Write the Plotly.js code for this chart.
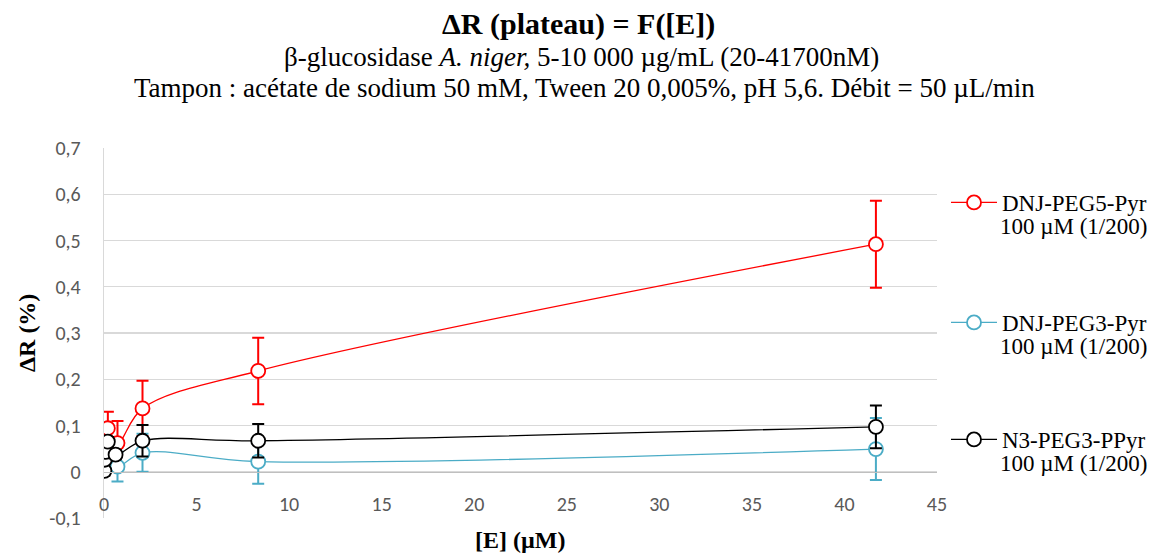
<!DOCTYPE html>
<html>
<head>
<meta charset="utf-8">
<script src="https://cdn.plot.ly/plotly-3.0.1.min.js"></script>
<style>html,body{margin:0;padding:0;background:#fff;}#chart{width:1161px;height:554px;}</style>
</head>
<body>
<div id="chart"></div>
<script>
// Data (x in µM, y in %)
const redName = "DNJ-PEG5-Pyr";
const redX = [0.042, 0.208, 0.729, 2.08, 8.33, 41.7];
const redY = [0.055, 0.094, 0.062, 0.137, 0.218, 0.492];
const redErr = [0.03, 0.036, 0.048, 0.06, 0.072, 0.094];

const tealName = "DNJ-PEG3-Pyr";
const tealX = [0.021, 0.104, 0.729, 2.08, 8.33, 41.7];
const tealY = [0.01, 0.02, 0.011, 0.041, 0.022, 0.049];
const tealErr = [0.015, 0.015, 0.032, 0.041, 0.048, 0.067];

const blackName = "N3-PEG3-PPyr";
const blackX = [0.021, 0.042, 0.104, 0.208, 0.625, 2.08, 8.33, 41.7];
const blackY = [0.002, 0.026, 0.043, 0.065, 0.037, 0.067, 0.067, 0.097];
const blackErr = [0.01, 0.01, 0.01, 0.01, 0.01, 0.034, 0.036, 0.046];

const legendSub = "100 µM (1/200)";

const xTicks = [0, 5, 10, 15, 20, 25, 30, 35, 40, 45];
const yTicks = [-0.1, 0, 0.1, 0.2, 0.3, 0.4, 0.5, 0.6, 0.7];
const yTickText = ["-0,1", "0", "0,1", "0,2", "0,3", "0,4", "0,5", "0,6", "0,7"];

const serif = "Liberation Serif";
const sans = "Carlito, Lato, sans-serif";

function series(name, x, y, err, color, legend) {
  return {
    type: "scatter", mode: "lines+markers", name: name, x: x, y: y,
    legend: legend,
    line: {color: color, width: 1.3, shape: "spline", smoothing: 1},
    marker: {symbol: "circle", size: 14, color: "#ffffff", line: {color: color, width: 1.8}},
    error_y: {type: "data", array: err, visible: true, color: color, thickness: 2, width: 6}
  };
}

const data = [
  series(redName, redX, redY, redErr, "#ff0000", "legend"),
  series(tealName, tealX, tealY, tealErr, "#4bacc6", "legend2"),
  series(blackName, blackX, blackY, blackErr, "#000000", "legend3")
];

// plot area: x 104..937, y 148..518
const T = 148, B = 518;
function py(pix) { return 1 + (T - pix) / (B - T); }
const L = 104, R = 937;
function px(pix) { return (pix - L) / (R - L); }

const legendBase = {
  xref: "paper", yref: "paper", xanchor: "left", yanchor: "top",
  font: {family: serif, size: 23, color: "#000"}, bgcolor: "rgba(0,0,0,0)",
  itemwidth: 46
};

function ann(text, xp, yp, size, extra) {
  return Object.assign({text: text, xref: "paper", yref: "paper", x: px(xp), y: py(yp),
    xanchor: "center", yanchor: "middle", showarrow: false,
    font: {family: serif, size: size, color: "#000"}}, extra || {});
}

const layout = {
  width: 1161, height: 554,
  margin: {l: L, r: 1161 - R, t: T, b: 554 - B, autoexpand: false},
  paper_bgcolor: "#fff", plot_bgcolor: "#fff",
  showlegend: true,
  legend: Object.assign({}, legendBase, {x: px(946), y: py(181)}),
  legend2: Object.assign({}, legendBase, {x: px(946), y: py(301)}),
  legend3: Object.assign({}, legendBase, {x: px(946), y: py(418)}),
  xaxis: {
    range: [0, 45], tickvals: xTicks, ticktext: xTicks.map(String),
    anchor: "free", position: 0.125, automargin: false,
    showgrid: false, zeroline: false, showline: true, linecolor: "#bfbfbf", linewidth: 1.3,
    ticks: "", ticklabelstandoff: 14, tickfont: {family: sans, size: 20, color: "#595959"}
  },
  yaxis: {
    range: [-0.1, 0.7], tickvals: yTicks, ticktext: yTickText, automargin: false,
    showgrid: true, gridcolor: "#d9d9d9", gridwidth: 1.3, zeroline: false,
    showline: true, linecolor: "#d9d9d9", linewidth: 1.3,
    ticks: "", ticklabelstandoff: 18, tickfont: {family: sans, size: 20, color: "#595959"}
  },
  annotations: [
    ann("<b>ΔR (plateau) = F([E])</b>", 578, 24.5, 30),
    ann("β-glucosidase <i>A. niger,</i> 5-10 000 µg/mL (20-41700nM)", 581, 57.5, 27),
    ann("Tampon : acétate de sodium 50 mM, Tween 20 0,005%, pH 5,6. Débit = 50 µL/min", 584, 88, 27),
    ann("<b>ΔR (%)</b>", 27, 333, 24, {textangle: -90}),
    ann("<b>[E] (µM)</b>", 520, 540, 24),
    ann(legendSub, 998, 226, 23, {xanchor: "left"}),
    ann(legendSub, 998, 346, 23, {xanchor: "left"}),
    ann(legendSub, 998, 463, 23, {xanchor: "left"})
  ]
};

Plotly.newPlot("chart", data, layout, {displayModeBar: false, staticPlot: true});
</script>
</body>
</html>
